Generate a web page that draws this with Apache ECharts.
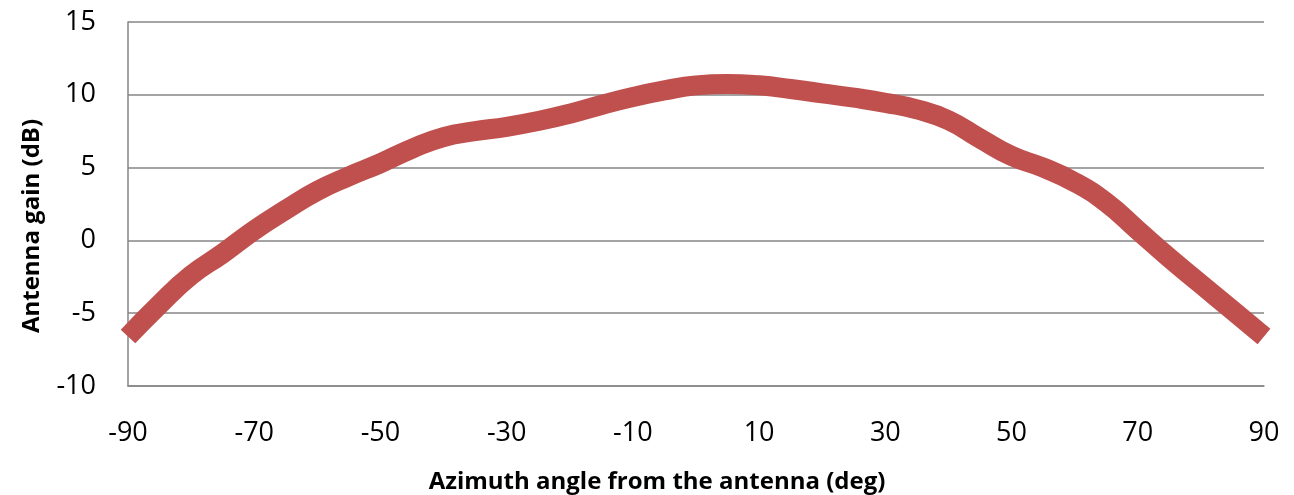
<!DOCTYPE html>
<html>
<head>
<meta charset="utf-8">
<script src="https://cdn.jsdelivr.net/npm/echarts@6/dist/echarts.min.js"></script>
<style>
html,body{margin:0;padding:0;background:#fff;}
#chart{width:1294px;height:495px;}
</style>
</head>
<body>
<div id="chart"></div>
<script>
const azimuth = [-90,-85,-80,-75,-70,-65,-60,-55,-50,-45,-40,-35,-30,-25,-20,-15,-10,-5,0,5,10,15,20,25,30,35,40,45,50,55,60,65,70,75,80,85,90];
const gain = [-6.6,-4.4,-2.4,-0.9,0.7,2.1,3.4,4.4,5.3,6.3,7.1,7.5,7.8,8.2,8.7,9.3,9.85,10.3,10.65,10.75,10.65,10.4,10.1,9.8,9.45,9.0,8.25,7.0,5.8,5.0,4.0,2.6,0.7,-1.2,-3.0,-4.8,-6.6];
const xTicks = [-90,-70,-50,-30,-10,10,30,50,70,90];
const yTicks = [-10,-5,0,5,10,15];

const chart = echarts.init(document.getElementById('chart'), null, {renderer:'canvas'});
const fontFam = '"Open Sans", sans-serif';
chart.setOption({
  animation:false,
  backgroundColor:'#ffffff',
  grid:{left:128,right:30,top:22,bottom:109,containLabel:false,outerBoundsMode:'none'},
  xAxis:{
    type:'value',
    min:xTicks[0], max:xTicks[xTicks.length-1], interval:20,
    name:'Azimuth angle from the antenna (deg)',
    nameLocation:'middle', nameGap:84,
    nameTextStyle:{fontFamily:fontFam,fontWeight:'bold',fontSize:24,color:'#000',padding:[0,78,0,0]},
    axisLine:{show:true,onZero:false,lineStyle:{color:'#868686',width:1.5}},
    axisTick:{show:false},
    splitLine:{show:false},
    axisLabel:{fontFamily:fontFam,fontSize:27,color:'#000',margin:34}
  },
  yAxis:{
    type:'value',
    min:yTicks[0], max:yTicks[yTicks.length-1], interval:5,
    name:'Antenna gain (dB)',
    nameLocation:'middle', nameGap:84,
    nameTextStyle:{fontFamily:fontFam,fontWeight:'bold',fontSize:24,color:'#000',padding:[0,44,0,0]},
    axisLine:{show:true,onZero:false,lineStyle:{color:'#868686',width:1.5}},
    axisTick:{show:false},
    splitLine:{show:true,lineStyle:{color:'#868686',width:1.5}},
    axisLabel:{fontFamily:fontFam,fontSize:27,color:'#000',margin:32}
  },
  series:[{
    type:'line',
    data:azimuth.map((a,i)=>[a,gain[i]]),
    smooth:0.5,
    showSymbol:false,
    lineStyle:{color:'#c0504d',width:20,cap:'butt'},
    itemStyle:{color:'#c0504d'}
  }]
});
</script>
</body>
</html>
